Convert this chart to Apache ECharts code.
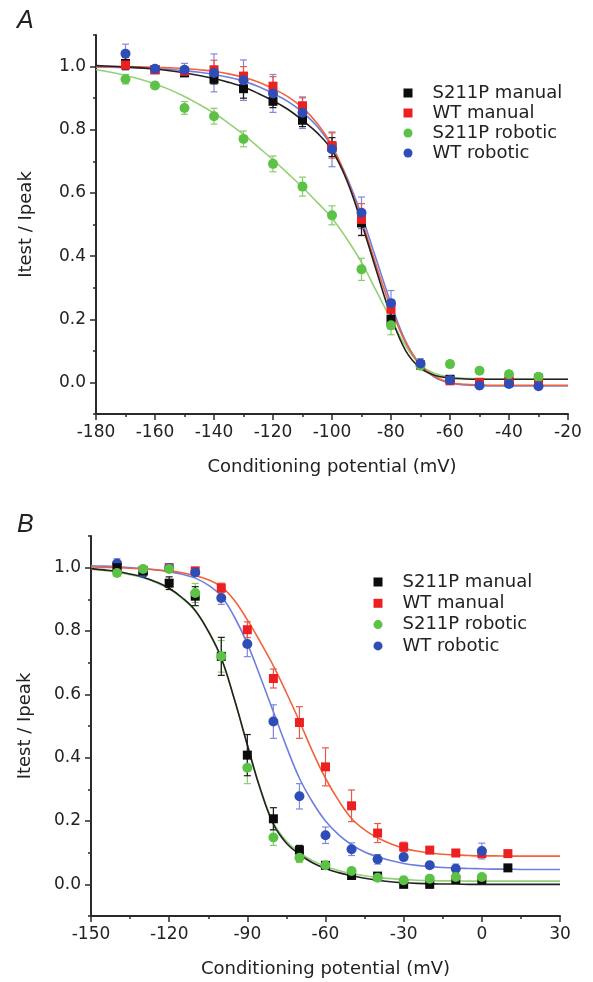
<!DOCTYPE html>
<html>
<head>
<meta charset="utf-8">
<script src="https://cdn.jsdelivr.net/npm/echarts@6/dist/echarts.min.js"></script>
<style>
html,body{margin:0;padding:0;background:#fff;}
#chart{width:593px;height:982px;}
</style>
</head>
<body>
<div id="chart"></div>
<script>
// ---------- Panel A data ----------
var xA = [-170,-160,-150,-140,-130,-120,-110,-100,-90,-80,-70,-60,-50,-40,-30];
var aS211PManual  = [1.01,0.99,0.98,0.96,0.93,0.89,0.83,0.745,0.505,0.2,0.055,0.01,0.0,0.005,0.013];
var aWTManual     = [1.005,0.99,0.985,0.99,0.97,0.938,0.876,0.75,0.516,0.232,0.055,0.005,0.0,0.0,0.0];
var aS211PRobotic = [0.96,0.94,0.869,0.843,0.771,0.692,0.62,0.529,0.358,0.181,0.053,0.058,0.037,0.026,0.018];
var aWTRobotic    = [1.041,0.993,0.99,0.98,0.957,0.915,0.854,0.738,0.537,0.251,0.06,0.008,-0.01,-0.005,-0.012];
var aErrS211PManual  = [0.02,0.01,0.01,0.015,0.03,0.02,0.02,0.03,0.04,0.03,0.01,0.01,0.01,0.01,0.01];
var aErrWTManual     = [0.01,0.01,0.01,0.03,0.03,0.03,0.025,0.04,0.05,0.03,0.01,0.01,0.01,0.01,0.01];
var aErrS211PRobotic = [0.015,0.01,0.02,0.025,0.025,0.025,0.03,0.03,0.035,0.03,0.01,0.01,0.01,0.01,0.01];
var aErrWTRobotic    = [0.03,0.01,0.02,0.06,0.064,0.06,0.05,0.055,0.05,0.04,0.015,0.01,0.01,0.01,0.01];

var xFitA = [-180,-175,-170,-165,-160,-155,-150,-145,-140,-135,-130,-125,-120,-115,-110,-105,-100,-95,-90,-85,-80,-75,-70,-65,-60,-55,-50,-45,-40,-35,-30,-25,-20];
var aFitWTManual = [1.0,1.0,1.0,0.999,0.998,0.996,0.994,0.99,0.985,0.977,0.966,0.951,0.93,0.905,0.87,0.82,0.75,0.645,0.515,0.37,0.235,0.125,0.055,0.018,0.0,-0.006,-0.008,-0.009,-0.009,-0.009,-0.009,-0.009,-0.009];
var aFitWTRobotic = [0.999,0.998,0.997,0.996,0.994,0.991,0.987,0.982,0.975,0.966,0.954,0.937,0.915,0.89,0.856,0.81,0.745,0.65,0.53,0.39,0.25,0.13,0.055,0.015,-0.002,-0.008,-0.01,-0.011,-0.011,-0.011,-0.011,-0.011,-0.011];
var aFitS211PManual = [1.003,1.001,0.999,0.996,0.992,0.987,0.98,0.972,0.962,0.95,0.935,0.915,0.892,0.865,0.83,0.79,0.735,0.64,0.505,0.355,0.21,0.1,0.045,0.022,0.014,0.011,0.01,0.01,0.01,0.01,0.01,0.01,0.01];
var aFitS211PRobotic = [0.99,0.982,0.972,0.96,0.945,0.927,0.905,0.88,0.853,0.82,0.785,0.745,0.705,0.662,0.618,0.57,0.52,0.455,0.38,0.29,0.2,0.115,0.055,0.028,0.017,0.013,0.011,0.01,0.01,0.01,0.01,0.01,0.01];

// ---------- Panel B data ----------
var xB = [-140,-130,-120,-110,-100,-90,-80,-70,-60,-50,-40,-30,-20,-10,0,10];
var bS211PManual  = [1.0,0.99,0.951,0.91,0.72,0.408,0.207,0.108,0.06,0.028,0.026,0.0,0.0,0.015,0.015,0.052];
var bWTManual     = [1.005,0.99,1.0,0.99,0.936,0.804,0.65,0.511,0.371,0.248,0.162,0.118,0.108,0.099,0.097,0.097];
var bS211PRobotic = [0.983,0.996,0.996,0.92,0.72,0.368,0.148,0.084,0.06,0.042,0.021,0.013,0.018,0.023,0.023,null];
var bWTRobotic    = [1.013,0.983,0.999,0.985,0.904,0.759,0.514,0.278,0.155,0.111,0.079,0.086,0.06,0.049,0.105,null];
var bErrS211PManual  = [0.01,0.01,0.02,0.03,0.06,0.065,0.035,0.015,0.01,0.01,0.01,0.01,0.01,0.01,0.01,0.01];
var bErrWTManual     = [0.01,0.01,0.01,0.01,0.015,0.025,0.03,0.05,0.06,0.05,0.03,0.015,0.01,0.01,0.01,0.01];
var bErrS211PRobotic = [0.01,0.01,0.01,0.03,0.05,0.05,0.025,0.015,0.01,0.01,0.01,0.01,0.01,0.01,0.01,null];
var bErrWTRobotic    = [0.015,0.01,0.01,0.01,0.02,0.04,0.053,0.04,0.026,0.02,0.015,0.01,0.01,0.015,0.025,null];

var xFitB = [-150,-145,-140,-135,-130,-125,-120,-115,-110,-105,-100,-95,-90,-85,-80,-75,-70,-65,-60,-55,-50,-45,-40,-35,-30,-25,-20,-15,-10,-5,0,5,10,15,20,25,30];
var bFitWTManual = [1.002,1.001,1.0,0.998,0.996,0.993,0.99,0.984,0.975,0.962,0.94,0.897,0.835,0.765,0.69,0.605,0.515,0.42,0.335,0.265,0.208,0.172,0.147,0.128,0.114,0.105,0.099,0.095,0.093,0.091,0.09,0.09,0.089,0.089,0.089,0.089,0.089];
var bFitWTRobotic = [1.006,1.005,1.003,1.0,0.997,0.993,0.987,0.979,0.967,0.945,0.91,0.845,0.76,0.655,0.545,0.435,0.335,0.26,0.2,0.157,0.125,0.102,0.087,0.075,0.066,0.06,0.056,0.053,0.051,0.05,0.049,0.048,0.048,0.047,0.047,0.047,0.047];
var bFitS211PManual = [0.997,0.993,0.988,0.98,0.97,0.955,0.935,0.905,0.865,0.8,0.715,0.585,0.44,0.3,0.19,0.13,0.095,0.068,0.05,0.037,0.027,0.019,0.013,0.008,0.005,0.003,0.002,0.001,0.001,0.0,0.0,0.0,0.0,0.0,0.0,0.0,0.0];
var bFitS211PRobotic = [0.995,0.991,0.986,0.978,0.968,0.953,0.933,0.903,0.863,0.798,0.713,0.585,0.442,0.303,0.195,0.136,0.101,0.075,0.057,0.044,0.034,0.027,0.022,0.018,0.015,0.013,0.012,0.011,0.011,0.01,0.01,0.01,0.01,0.01,0.01,0.01,0.01];

// ---------- Tick labels ----------
var yTicks = [0.0,0.2,0.4,0.6,0.8,1.0];
var yMinorTicks = [-0.1,0.1,0.3,0.5,0.7,0.9,1.1];
var xTicksA = [-180,-160,-140,-120,-100,-80,-60,-40,-20];
var xMinorTicksA = [-170,-150,-130,-110,-90,-70,-50,-30];
var xTicksB = [-150,-120,-90,-60,-30,0,30];
var xMinorTicksB = [-135,-105,-75,-45,-15,15];

var seriesNames = ['S211P manual','WT manual','S211P robotic','WT robotic'];
var xTitle = 'Conditioning potential (mV)';
var yTitle = 'Itest / Ipeak';

// ---------- styles ----------
var FONT = 'DejaVu Sans';
var AX = '#2a2a2a';
var markColor = {'S211P manual':'#0c0c0c','WT manual':'#ec2020','S211P robotic':'#5cc245','WT robotic':'#2f4db6'};
var lineColor = {'S211P manual':'#222222','WT manual':'#f2633c','S211P robotic':'#92d275','WT robotic':'#6f7fe0'};
var errColor  = {'S211P manual':'#1a1a1a','WT manual':'#e65a4a','S211P robotic':'#88cc6a','WT robotic':'#8088dc'};
var markSymbol = {'S211P manual':'rect','WT manual':'rect','S211P robotic':'circle','WT robotic':'circle'};

function mainX(min,max,ticks,gridIndex){
  return {type:'value',gridIndex:gridIndex,min:min,max:max,position:'bottom',
    axisLine:{onZero:false,lineStyle:{color:AX,width:2}},
    axisTick:{customValues:ticks,length:6,lineStyle:{color:AX,width:1.5}},
    axisLabel:{customValues:ticks,margin:10,fontFamily:FONT,fontSize:17,color:'#222'},
    splitLine:{show:false},
    name:xTitle,nameLocation:'middle',nameGap:44,
    nameTextStyle:{fontFamily:FONT,fontSize:18,color:'#222'}};
}
function minorX(min,max,ticks,gridIndex){
  return {type:'value',gridIndex:gridIndex,min:min,max:max,position:'bottom',
    axisLine:{show:false,onZero:false},
    axisTick:{customValues:ticks,length:3,lineStyle:{color:AX,width:1.5}},
    axisLabel:{show:false,customValues:ticks},splitLine:{show:false}};
}
function mainY(gridIndex,gap){
  return {type:'value',gridIndex:gridIndex,min:-0.1,max:1.1,position:'left',
    axisLine:{show:true,onZero:false,lineStyle:{color:AX,width:2}},
    axisTick:{show:true,customValues:yTicks,length:6,lineStyle:{color:AX,width:1.5}},
    axisLabel:{customValues:yTicks,margin:10,fontFamily:FONT,fontSize:17,color:'#222',
      formatter:function(v){return v.toFixed(1);}},
    splitLine:{show:false},
    name:yTitle,nameLocation:'middle',nameGap:gap,nameRotate:90,
    nameTextStyle:{fontFamily:FONT,fontSize:18,color:'#222'}};
}
function minorY(gridIndex){
  return {type:'value',gridIndex:gridIndex,min:-0.1,max:1.1,position:'left',
    axisLine:{show:false,onZero:false},
    axisTick:{show:true,customValues:yMinorTicks,length:3,lineStyle:{color:AX,width:1.5}},
    axisLabel:{show:false,customValues:yMinorTicks},splitLine:{show:false}};
}

function fitSeries(xs,ys,name,axisIdx){
  return {type:'line',xAxisIndex:axisIdx,yAxisIndex:axisIdx,
    data:xs.map(function(x,i){return [x,ys[i]];}),
    smooth:0.4,showSymbol:false,symbol:'none',silent:true,
    lineStyle:{color:lineColor[name],width:1.6},z:2};
}
function errSeries(xs,vals,errs,name,axisIdx){
  var d=[];
  xs.forEach(function(x,i){ if(vals[i]!=null && errs[i]!=null){ d.push([x,vals[i]-errs[i],vals[i]+errs[i]]); } });
  var c = errColor[name];
  return {type:'custom',xAxisIndex:axisIdx,yAxisIndex:axisIdx,data:d,silent:true,z:3,
    encode:{x:0,y:[1,2]},
    renderItem:function(params,api){
      var x=api.value(0);
      var lo=api.coord([x,api.value(1)]);
      var hi=api.coord([x,api.value(2)]);
      var w=3.5;
      var st={stroke:c,lineWidth:1.2};
      return {type:'group',children:[
        {type:'line',shape:{x1:hi[0],y1:hi[1],x2:lo[0],y2:lo[1]},style:st},
        {type:'line',shape:{x1:hi[0]-w,y1:hi[1],x2:hi[0]+w,y2:hi[1]},style:st},
        {type:'line',shape:{x1:lo[0]-w,y1:lo[1],x2:lo[0]+w,y2:lo[1]},style:st}
      ]};
    }};
}
function pointSeries(xs,vals,name,axisIdx){
  var d=[];
  xs.forEach(function(x,i){ if(vals[i]!=null){ d.push([x,vals[i]]); } });
  return {type:'scatter',name:name,xAxisIndex:axisIdx,yAxisIndex:axisIdx,data:d,
    symbol:markSymbol[name],symbolSize:markSymbol[name]==='rect'?9:10,
    itemStyle:{color:markColor[name],opacity:1},z:4};
}

var series = [];
// Panel A (axis index 0)
series.push(fitSeries(xFitA,aFitS211PRobotic,'S211P robotic',0));
series.push(fitSeries(xFitA,aFitWTRobotic,'WT robotic',0));
series.push(fitSeries(xFitA,aFitWTManual,'WT manual',0));
series.push(fitSeries(xFitA,aFitS211PManual,'S211P manual',0));
series.push(errSeries(xA,aWTRobotic,aErrWTRobotic,'WT robotic',0));
series.push(errSeries(xA,aS211PRobotic,aErrS211PRobotic,'S211P robotic',0));
series.push(errSeries(xA,aWTManual,aErrWTManual,'WT manual',0));
series.push(errSeries(xA,aS211PManual,aErrS211PManual,'S211P manual',0));
series.push(pointSeries(xA,aS211PManual,'S211P manual',0));
series.push(pointSeries(xA,aWTManual,'WT manual',0));
series.push(pointSeries(xA,aS211PRobotic,'S211P robotic',0));
series.push(pointSeries(xA,aWTRobotic,'WT robotic',0));
// Panel B (axis index 2)
series.push(fitSeries(xFitB,bFitS211PRobotic,'S211P robotic',2));
series.push(fitSeries(xFitB,bFitS211PManual,'S211P manual',2));
series.push(fitSeries(xFitB,bFitWTRobotic,'WT robotic',2));
series.push(fitSeries(xFitB,bFitWTManual,'WT manual',2));
series.push(errSeries(xB,bWTRobotic,bErrWTRobotic,'WT robotic',2));
series.push(errSeries(xB,bWTManual,bErrWTManual,'WT manual',2));
series.push(errSeries(xB,bS211PRobotic,bErrS211PRobotic,'S211P robotic',2));
series.push(errSeries(xB,bS211PManual,bErrS211PManual,'S211P manual',2));
series.push(pointSeries(xB,bWTManual,'WT manual',2));
series.push(pointSeries(xB,bWTRobotic,'WT robotic',2));
series.push(pointSeries(xB,bS211PManual,'S211P manual',2));
series.push(pointSeries(xB,bS211PRobotic,'S211P robotic',2));

function legendCfg(left,top,gap){
  return {orient:'vertical',left:left,top:top,padding:0,itemWidth:9,itemHeight:9,itemGap:gap,
    selectedMode:false,
    data:seriesNames.map(function(n){return {name:n,icon:markSymbol[n]};}),
    textStyle:{fontFamily:FONT,fontSize:18,lineHeight:18,color:'#222',padding:[0,0,0,15]}};
}

var chart = echarts.init(document.getElementById('chart'),null,{renderer:'canvas'});
chart.setOption({
  animation:false,
  backgroundColor:'#fff',
  grid:[
    {left:96,top:35,width:472,height:379},
    {left:91,top:536,width:469,height:380}
  ],
  xAxis:[mainX(-180,-20,xTicksA,0),minorX(-180,-20,xMinorTicksA,0),mainX(-150,30,xTicksB,1),minorX(-150,30,xMinorTicksB,1)],
  yAxis:[mainY(0,61),minorY(0),mainY(1,57),minorY(1)],
  legend:[legendCfg(403.5,84,2),legendCfg(373.5,573,3.3)],
  graphic:[
    {type:'text',left:17,top:9,style:{text:'A',font:'italic 25px "Liberation Sans"',fill:'#222'}},
    {type:'text',left:17,top:513,style:{text:'B',font:'italic 25px "Liberation Sans"',fill:'#222'}}
  ],
  series:series
});
</script>
</body>
</html>
